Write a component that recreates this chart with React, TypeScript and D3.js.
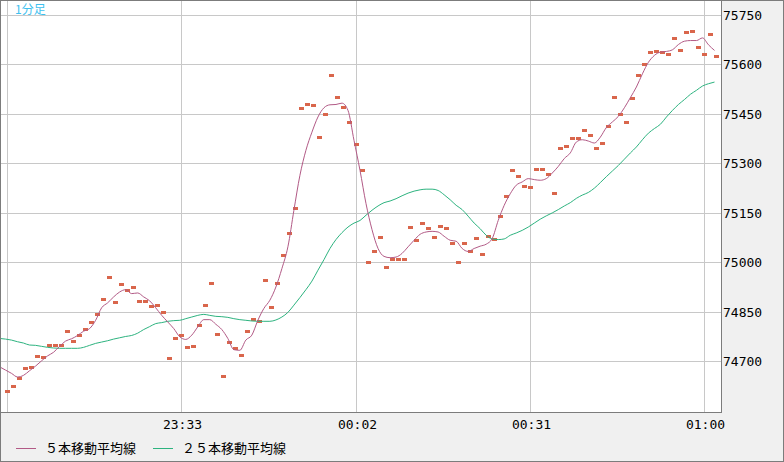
import * as d3 from 'd3';

const W = 784;
const H = 462;
const plotRight = 722;
const plotBottom = 412;

const title = '1分足';
const startTime = '23:04';
const xTickLabels = ['23:04', '23:33', '00:02', '00:31', '01:00'];
const yTicks = [74700, 74850, 75000, 75150, 75300, 75450, 75600, 75750];
const legendLabels = ['５本移動平均線', '２５本移動平均線'];

// 1-minute prices, one per minute starting at 23:04
const prices = [
  74609, 74624, 74648, 74679, 74682, 74715, 74712, 74749, 74749, 74749,
  74791, 74762, 74779, 74797, 74818, 74843, 74888, 74955, 74879, 74934,
  74915, 74924, 74882, 74882, 74867, 74870, 74849, 74709, 74770, 74779,
  74742, 74745, 74809, 74870, 74936, 74782, 74654, 74758, 74739, 74718,
  74791, 74827, 74821, 74946, 74864, 74936, 75021, 75088, 75164, 75467,
  75479, 75476, 75379, 75449, 75567, 75500, 75470, 75425, 75358, 75279,
  75000, 75034, 75076, 74985, 75009, 75009, 75009, 75106, 75067, 75118,
  75103, 75076, 75109, 75103, 75058, 75000, 75058, 75034, 75073, 75024,
  75079, 75070, 75140, 75200, 75279, 75261, 75231, 75228, 75282, 75282,
  75267, 75209, 75346, 75352, 75376, 75376, 75400, 75385, 75346, 75361,
  75413, 75500, 75449, 75425, 75497, 75567, 75600, 75637, 75640, 75637,
  75631, 75679, 75643, 75698, 75701, 75652, 75631, 75692, 75625,
];

// moving averages start one minute before the first price (23:03)
const maStart = -1;
const ma5 = [
  74684, 74674, 74664, 74653, 74658, 74672, 74686, 74702, 74717, 74728,
  74746, 74762, 74769, 74779, 74792, 74800, 74825, 74863, 74878, 74896,
  74911, 74918, 74906, 74908, 74896, 74884, 74863, 74840, 74820, 74800,
  74775, 74767, 74780, 74805, 74827, 74827, 74813, 74797, 74770, 74736,
  74734, 74765, 74780, 74825, 74861, 74886, 74926, 74982, 75048, 75159,
  75265, 75341, 75396, 75442, 75470, 75479, 75480, 75484, 75462, 75371,
  75280, 75179, 75100, 75043, 75019, 75015, 75017, 75028, 75048, 75068,
  75086, 75093, 75095, 75093, 75080, 75068, 75065, 75043, 75034, 75043,
  75050, 75056, 75073, 75128, 75174, 75209, 75235, 75245, 75255, 75252,
  75250, 75255, 75272, 75292, 75316, 75333, 75366, 75373, 75369, 75363,
  75381, 75410, 75427, 75444, 75470, 75501, 75533, 75573, 75608, 75629,
  75639, 75641, 75646, 75662, 75672, 75674, 75674, 75682, 75661, 75644,
];
const ma25 = [
  74770, 74768, 74765, 74760, 74756, 74750, 74749, 74746, 74743, 74741,
  74740, 74740, 74740, 74740, 74743, 74749, 74755, 74759, 74763, 74768,
  74772, 74776, 74779, 74786, 74797, 74806, 74815, 74818, 74822, 74824,
  74825, 74830, 74835, 74840, 74843, 74840, 74837, 74836, 74834, 74830,
  74827, 74825, 74823, 74822, 74822, 74822, 74826, 74835, 74849, 74871,
  74894, 74918, 74944, 74977, 75009, 75043, 75070, 75091, 75108, 75120,
  75128, 75144, 75159, 75172, 75182, 75187, 75194, 75203, 75211, 75217,
  75221, 75223, 75223, 75219, 75206, 75191, 75174, 75161, 75141, 75120,
  75103, 75083, 75072, 75070, 75072, 75083, 75090, 75098, 75108, 75120,
  75132, 75142, 75151, 75161, 75172, 75182, 75195, 75205, 75213, 75226,
  75243, 75261, 75278, 75295, 75314, 75333, 75351, 75373, 75393, 75407,
  75420, 75442, 75462, 75480, 75495, 75511, 75523, 75536, 75543, 75548,
];

const COLORS = {
  bg: '#f0f0f0',
  frame: '#7c7c7c',
  grid: '#c8c8c8',
  price: '#d9664c',
  ma5: '#b25a86',
  ma25: '#2db37f',
  title: '#3ec1ef',
};

function toMinutes(label: string) {
  const [h, m] = label.split(':').map(Number);
  return h * 60 + m;
}

function minuteIndex(label: string) {
  let d = toMinutes(label) - toMinutes(startTime);
  if (d < 0) d += 1440;
  return d;
}

const crisp = (v: number) => Math.floor(v) + 0.5;

export default function App() {
  const xTicks = xTickLabels.map(minuteIndex);
  const lastTick = xTicks[xTicks.length - 1];

  const x = d3.scaleLinear().domain([0, lastTick]).range([7.5, 704.5]);
  const y = d3.scaleLinear().domain([74700, 75750]).range([361.5, 15.5]);

  // moving averages are plotted slightly left of the price markers
  const maLine = d3
    .line<number>()
    .x((_, i) => x(i + maStart) - 2)
    .y((d) => y(d))
    .curve(d3.curveMonotoneX);

  const mono = '"DejaVu Sans Mono", monospace';
  const cjk = '"Noto Sans CJK JP", "Noto Sans", sans-serif';

  return (
    <>
      <style>{'body{margin:0}'}</style>
      <svg width={W} height={H} style={{ display: 'block' }}>
        <defs>
          <clipPath id="plot-clip">
            <rect x={1} y={1} width={plotRight - 1} height={plotBottom - 1} />
          </clipPath>
        </defs>
        <rect x={0} y={0} width={W} height={H} fill={COLORS.bg} />
        <rect x={0} y={0} width={plotRight} height={plotBottom} fill="#fff" />

        {/* grid */}
        <g stroke={COLORS.grid} strokeWidth={1} shapeRendering="crispEdges">
          {yTicks.map((t) => (
            <line key={t} x1={1} x2={plotRight} y1={crisp(y(t))} y2={crisp(y(t))} />
          ))}
          {xTicks.map((t) => (
            <line key={t} x1={crisp(x(t))} x2={crisp(x(t))} y1={1} y2={plotBottom} />
          ))}
        </g>

        <g clipPath="url(#plot-clip)">
          {prices.map((p, i) => (
            <rect
              key={i}
              x={Math.round(x(i) - 2.5)}
              y={Math.round(y(p) - 1.5)}
              width={5}
              height={3}
              fill={COLORS.price}
              shapeRendering="crispEdges"
            />
          ))}
          <path d={maLine(ma25) ?? ''} fill="none" stroke={COLORS.ma25} strokeWidth={1} />
          <path d={maLine(ma5) ?? ''} fill="none" stroke={COLORS.ma5} strokeWidth={1} />
        </g>

        {/* frames */}
        <g fill="none" stroke={COLORS.frame} strokeWidth={1} shapeRendering="crispEdges">
          <rect x={0.5} y={0.5} width={W - 1} height={H - 1} />
          <line x1={plotRight - 0.5} x2={plotRight - 0.5} y1={0} y2={plotBottom} />
          <line x1={0} x2={plotRight} y1={plotBottom + 0.5} y2={plotBottom + 0.5} />
        </g>

        <text x={15} y={14} fontFamily={cjk} fontSize={12} fill={COLORS.title}>
          {title}
        </text>

        {/* right axis */}
        {yTicks.map((t) => (
          <text
            key={t}
            x={723}
            y={crisp(y(t))}
            dy="0.36em"
            fontFamily={mono}
            fontSize={13}
            fill="#000"
          >
            {t}
          </text>
        ))}

        {/* time axis */}
        {xTickLabels.map((lab, i) =>
          i === 0 ? null : (
            <text
              key={lab}
              x={crisp(x(xTicks[i])) + 1}
              y={429}
              textAnchor="middle"
              fontFamily={mono}
              fontSize={13}
              fill="#000"
            >
              {lab}
            </text>
          ),
        )}

        {/* legend */}
        {legendLabels.map((lab, i) => {
          const lx = i === 0 ? 16 : 153;
          const color = i === 0 ? COLORS.ma5 : COLORS.ma25;
          return (
            <g key={lab}>
              <line x1={lx} x2={lx + 20} y1={448.5} y2={448.5} stroke={color} strokeWidth={1} />
              <text x={lx + 29} y={448.5} dy="0.36em" fontFamily={cjk} fontSize={13} fill="#000">
                {lab}
              </text>
            </g>
          );
        })}
      </svg>
    </>
  );
}
